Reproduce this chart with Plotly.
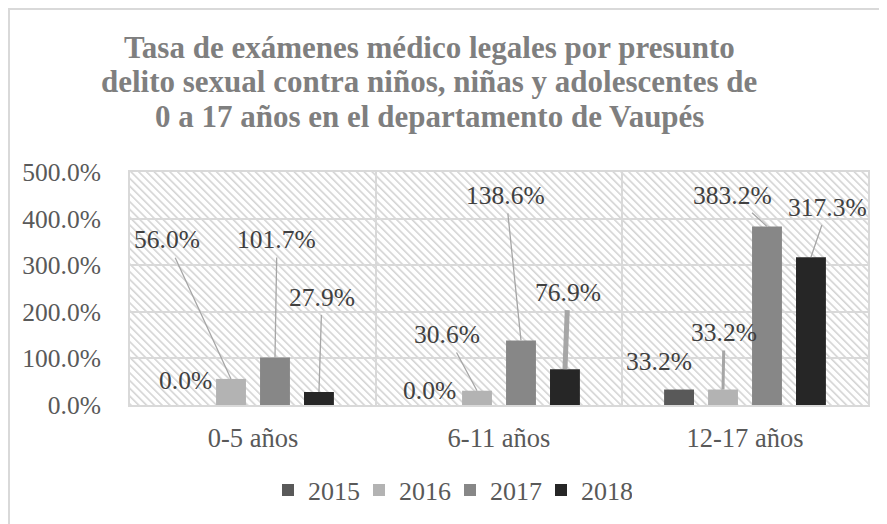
import base64
import plotly.graph_objects as go

categories = ["0-5 años", "6-11 años", "12-17 años"]
years = ["2015", "2016", "2017", "2018"]
v2015 = [0.0, 0.0, 33.2]
v2016 = [56.0, 30.6, 33.2]
v2017 = [101.7, 138.6, 383.2]
v2018 = [27.9, 76.9, 317.3]
series = [v2015, v2016, v2017, v2018]
colors = ["#595959", "#b3b3b3", "#878787", "#262626"]
y_ticks = [0, 100, 200, 300, 400, 500]
y_tick_text = [f"{t:.1f}%" for t in y_ticks]

title_lines = ["Tasa de exámenes médico legales por presunto",
               "delito sexual contra niños, niñas y adolescentes de",
               "0 a 17 años en el departamento de Vaupés"]

# label offsets (pixels) from bar tops: (ax, ay, leader width)  None width = no leader
label_offsets = {
    (0, 0): (-2, -25, None), (0, 1): (-64, -139, 1.3), (0, 2): (2, -118, 1.3), (0, 3): (3, -95, 1.3),
    (1, 0): (-4, -15, None), (1, 1): (-30, -56, 1.3), (1, 2): (-15, -145, 1.3), (1, 3): (3, -77, 5),
    (2, 0): (-20, -28, None), (2, 1): (1, -57, 3), (2, 2): (-34, -31, 1.3), (2, 3): (17, -50, 1.3),
}

SERIF = "Liberation Serif, Times New Roman, serif"
OFF = 8  # page body margin
W, H = 887 - OFF, 524 - OFF
ML, MT = 130 - OFF, 172 - OFF
MR = W - (868 - OFF)
MB = H - (405 - OFF)
PW, PH = W - ML - MR, H - MT - MB
bargap, bargroupgap = 0.285, 0.32


def px_x(p):
    return (p - OFF - ML) / PW


def px_y(p):
    return (H - MB - (p - OFF)) / PH


fig = go.Figure()
for yr, vals, col in zip(years, series, colors):
    fig.add_trace(go.Bar(name=yr, x=list(range(len(categories))), y=vals,
                         marker=dict(color=col, line=dict(width=0))))

n = len(years)
slot = (1 - bargap) / n
for ci in range(len(categories)):
    for si, vals in enumerate(series):
        ax, ay, lw = label_offsets[(ci, si)]
        xpos = ci - (1 - bargap) / 2 + slot * (si + 0.5)
        fig.add_annotation(
            x=xpos, y=vals[ci], xref="x", yref="y",
            text=f"{vals[ci]:.1f}%", showarrow=True, ax=ax, ay=ay,
            arrowhead=0, arrowwidth=lw if lw else 0.1,
            arrowcolor="#a6a6a6" if lw else "rgba(0,0,0,0)",
            standoff=0, startstandoff=2,
            font=dict(family=SERIF, size=25.5, color="#404040"),
        )

# title lines (tight Excel-like line spacing)
for i, line in enumerate(title_lines):
    fig.add_annotation(
        x=px_x(429), y=px_y(47 + 35 * i), xref="paper", yref="paper",
        xanchor="center", yanchor="middle", showarrow=False, text=f"<b>{line}</b>",
        font=dict(family=SERIF, size=31, color="#7f7f7f"),
    )

svg = (f'<svg xmlns="http://www.w3.org/2000/svg" width="{PW}" height="{PH}">'
       '<defs><pattern id="p" patternUnits="userSpaceOnUse" width="5.5" height="5.5" '
       'patternTransform="rotate(-45)"><rect x="0" y="0" width="1.6" height="5.5" fill="#d4d4d4"/>'
       '</pattern></defs>'
       f'<rect width="{PW}" height="{PH}" fill="#ffffff"/>'
       f'<rect width="{PW}" height="{PH}" fill="url(#p)"/></svg>')
src = "data:image/svg+xml;base64," + base64.b64encode(svg.encode()).decode()
fig.add_layout_image(source=src, xref="paper", yref="paper", x=0, y=1, sizex=1, sizey=1,
                     xanchor="left", yanchor="top", sizing="stretch", layer="below")

fig.add_shape(type="rect", xref="paper", yref="paper",
              x0=px_x(9), x1=px_x(900), y0=px_y(9), y1=px_y(560),
              line=dict(color="#d9d9d9", width=2), fillcolor="rgba(0,0,0,0)", layer="below")

for b in [0.5, 1.5]:
    fig.add_shape(type="line", xref="x", yref="paper", x0=b, x1=b, y0=0, y1=1,
                  line=dict(color="#d9d9d9", width=2), layer="below")

fig.update_layout(
    width=W, height=H,
    margin=dict(l=ML, r=MR, t=MT, b=MB),
    paper_bgcolor="white", plot_bgcolor="rgba(0,0,0,0)",
    barmode="group", bargap=bargap, bargroupgap=bargroupgap,
    font=dict(family=SERIF, size=25.5, color="#595959"),
    showlegend=True,
    legend=dict(orientation="h", xref="container", x=(268 - OFF) / W, xanchor="left",
                yref="container", y=1 - (490 - OFF) / H, yanchor="middle",
                font=dict(family=SERIF, size=26, color="#595959"), itemwidth=30,
                entrywidth=46, entrywidthmode="pixels",
                traceorder="normal"),
    xaxis=dict(tickmode="array", tickvals=list(range(len(categories))), ticktext=categories,
               range=[-0.5, len(categories) - 0.5], tickfont=dict(size=26.5),
               showgrid=False, showline=True, linecolor="#d9d9d9", linewidth=2, mirror=True,
               ticks="", ticklabelstandoff=8, zeroline=False),
    yaxis=dict(range=[0, 500], tickmode="array", tickvals=y_ticks, ticktext=y_tick_text,
               showgrid=True, gridcolor="#d9d9d9", gridwidth=2,
               showline=True, linecolor="#d9d9d9", linewidth=2, mirror=True,
               ticks="", ticklabelstandoff=22, zeroline=False),
)

fig.write_html("out.html")
